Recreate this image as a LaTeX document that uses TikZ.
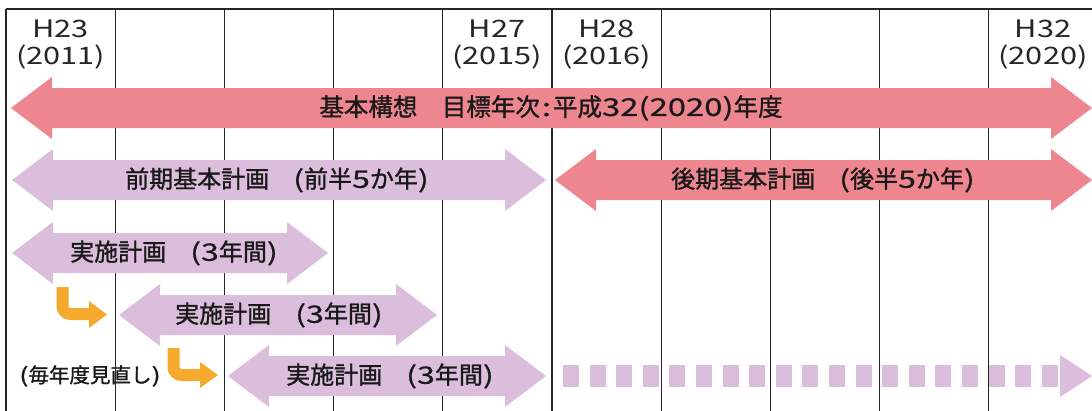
\documentclass[tikz,border=0pt]{standalone}
\usepackage{fontspec}
\setmainfont{Noto Sans CJK JP}[FakeBold=1.2]
\newfontfamily\hdrfont{Noto Sans CJK JP}[FakeStretch=1.28]
\newfontfamily\dgfont{Noto Sans CJK JP}[FakeStretch=1.34,FakeBold=0.6]
\newcommand\dg[1]{{\dgfont #1}}
\definecolor{pinkA}{RGB}{238,134,144}
\definecolor{lilac}{RGB}{219,190,220}
\definecolor{orng}{RGB}{245,170,45}
\newcommand\dblarrow[4]{% x1, x2, yc, colour
  \fill[#4] (#1,#3) -- (#1+41,#3-31) -- (#1+41,#3-20) -- (#2-41,#3-20) -- (#2-41,#3-31)
    -- (#2,#3) -- (#2-41,#3+31) -- (#2-41,#3+20) -- (#1+41,#3+20) -- (#1+41,#3+31) -- cycle;}
\begin{document}
\begin{tikzpicture}[x=1pt,y=-1pt,
  gridline/.style={line width=1.3pt, black!85},
  lbl/.style={font=\fontsize{24}{27}\selectfont, inner sep=0pt, text=black!90},
  note/.style={font=\fontsize{20.5}{23}\selectfont, inner sep=0pt, text=black!90},
  hdr/.style={font=\hdrfont\fontsize{24}{28}\selectfont, inner sep=0pt, anchor=base, text=black!85},
  bendarrow/.style={orng, line width=12pt, rounded corners=8pt},
  bendhead/.style={fill=orng, draw=none}]
\useasboundingbox (0,0) rectangle (1092,410);
\fill[white] (0,0) rectangle (1092,410);
% grid
\draw[gridline] (6,9) -- (1098,9);
\foreach \k in {0,...,9} \draw[gridline] ({6+\k*109.2},9) -- ({6+\k*109.2},412);
% headers
\node[hdr] (h23) at (60.6,37) {H23};
\node[hdr] (y2011) at (60.6,64) {(2011)};
\node[hdr] (h27) at (497,37) {H27};
\node[hdr] (y2015) at (497,64) {(2015)};
\node[hdr] (h28) at (606.6,37) {H28};
\node[hdr] (y2016) at (606.6,64) {(2016)};
\node[hdr] (h32) at (1043,37) {H32};
\node[hdr] (y2020) at (1043,64) {(2020)};
% arrows
\dblarrow{11}{1092}{108}{pinkA}
\dblarrow{12}{546}{180}{lilac}
\dblarrow{555}{1092}{180}{pinkA}
\dblarrow{12}{328}{253}{lilac}
\dblarrow{119}{437}{315}{lilac}
\dblarrow{228}{546}{376}{lilac}
% dashed arrow
\foreach \i in {0,...,18} \fill[lilac] ({563+\i*26.6},365) rectangle ++(16,22);
\fill[lilac] (1060,355) -- (1092,376) -- (1060,397) -- cycle;
% labels
\node[lbl, font=\fontsize{24.5}{27}\selectfont] (kihon) at (551,108) {基本構想　目標年次\kern2pt\dg{:}\kern2pt 平成\dg{32(2020)}年度};
\node[lbl] (zenki) at (277,180) {前期基本計画　\dg{(}前半\dg{5}か年\dg{)}};
\node[lbl] (kouki) at (823,180) {後期基本計画　\dg{(}後半\dg{5}か年\dg{)}};
\node[lbl] (jisshiA) at (174,253) {実施計画　\dg{(3}年間\dg{)}};
\node[lbl] (jisshiB) at (279,315) {実施計画　\dg{(3}年間\dg{)}};
\node[lbl] (jisshiC) at (390,376) {実施計画　\dg{(3}年間\dg{)}};
\node[note] (minaoshi) at (90,376) {\dg{(}毎年度見直し\dg{)}};
% orange bend arrows
\coordinate (b1s) at (62.5,287);
\coordinate (b1e) at (90,314);
\coordinate (b1t) at (107,314.5);
\draw[bendarrow] (b1s) |- (b1e);
\fill[bendhead] (89,301) -- (b1t) -- (89,328) -- cycle;
\coordinate (b2s) at (173.5,348);
\coordinate (b2e) at (201,375);
\coordinate (b2t) at (218,375);
\draw[bendarrow] (b2s) |- (b2e);
\fill[bendhead] (200,362) -- (b2t) -- (200,388) -- cycle;
\end{tikzpicture}
\end{document}
